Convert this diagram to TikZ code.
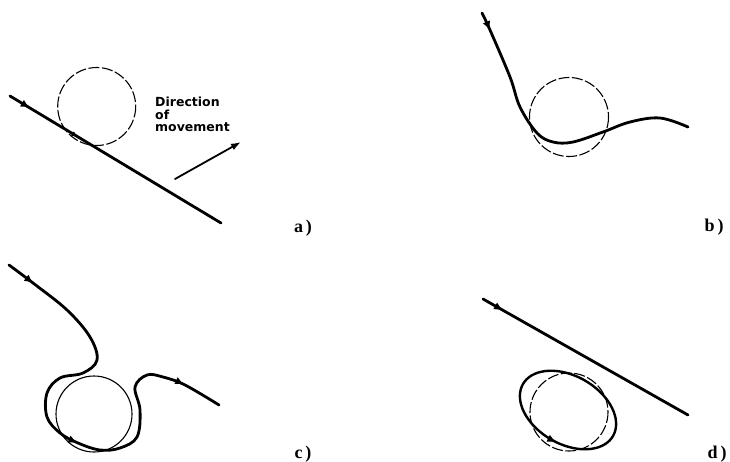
\documentclass[tikz,border=0pt]{standalone}
\usepackage{fontspec}
\newfontfamily\dirfont{DejaVu Sans}
\newfontfamily\labfont{Liberation Serif}
\usetikzlibrary{arrows.meta,decorations.markings}
\newcommand\tipA{\arrow{Latex[length=9pt,width=8pt]}}
\newcommand\tipB{\arrow{Latex[length=6pt,width=5.5pt]}}
\tikzset{
  track/.style={line width=2.8pt, line cap=round, line join=round},
  ring/.style={line width=1.1pt, dash pattern=on 11pt off 2.5pt},
  solidring/.style={line width=1.1pt},
  dirtext/.style={font=\dirfont\bfseries\fontsize{12.5}{12.5}\selectfont, align=left, inner sep=0pt},
  panellabel/.style={font=\labfont\bfseries\fontsize{18}{18}\selectfont, inner sep=0pt},
}
\begin{document}
\begin{tikzpicture}[x=1pt,y=-1pt]
\useasboundingbox (0,0) rectangle (730,462);

% ---------- panel a ----------
\coordinate (a1) at (10,96);
\coordinate (a2) at (221,223);
\draw[ring] (96.7,106.5) circle [radius=39];
\draw[track, postaction={decorate}, decoration={markings,
   mark=at position 23pt with {\tipA},
   mark=at position 79pt with {\tipB}}] (a1) -- (a2);
\node[dirtext, anchor=north west] (dir) at (155,97) {Direction\\of\\movement};
\coordinate (m1) at (175,179);
\coordinate (m2) at (241,142);
\draw[line width=1.8pt, line cap=round, -{Latex[length=10pt,width=7pt]}] (m1) -- (m2);
\node[panellabel] (la) at (303,228) {a\,)};

% ---------- panel b ----------
\draw[ring] (569,117) circle [radius=39.5];
\draw[track, postaction={decorate}, decoration={markings,
   mark=at position 19pt with {\tipA}}]
  plot[smooth, tension=0.6] coordinates {(482,13) (490,30) (510,77) (520,107) (537,133) (553,142) (573,142) (603,132) (630,122) (660,118) (688,127)};
\node[panellabel] (lb) at (714,227) {b\,)};

% ---------- panel c ----------
\draw[solidring] (94,414) circle [radius=38];
\draw[track, postaction={decorate}, decoration={markings,
   mark=at position 0.064 with {\tipA},
   mark=at position 0.552 with {\tipA},
   mark=at position 0.915 with {\tipA}}]
  plot[smooth, tension=0.6] coordinates {(9,265) (33,283) (67,310) (90,337) (97,360) (83,373) (60,378) (47,393) (47,417) (60,433) (78,443) (100,450) (120,448) (137,437) (140,410) (135,387) (147,375) (163,377) (185,385) (219,405)};
\node[panellabel] (lc) at (303,454) {c\,)};

% ---------- panel d ----------
\coordinate (d1) at (483,299);
\coordinate (d2) at (688,415);
\draw[track, postaction={decorate}, decoration={markings,
   mark=at position 23pt with {\tipA}}] (d1) -- (d2);
\draw[ring] (569,412) circle [radius=39];
\draw[track, line width=2.4pt, postaction={decorate}, decoration={markings,
   mark=at position 0.75 with {\tipA}}]
  plot[smooth cycle, domain=360:10, samples=36, variable=\t]
  ({568 + 52*cos(\t)*cos(30) - 34*sin(\t)*sin(30)},
   {410 + 52*cos(\t)*sin(30) + 34*sin(\t)*cos(30)});
\node[panellabel] (ld) at (717,454) {d\,)};
\end{tikzpicture}
\end{document}
